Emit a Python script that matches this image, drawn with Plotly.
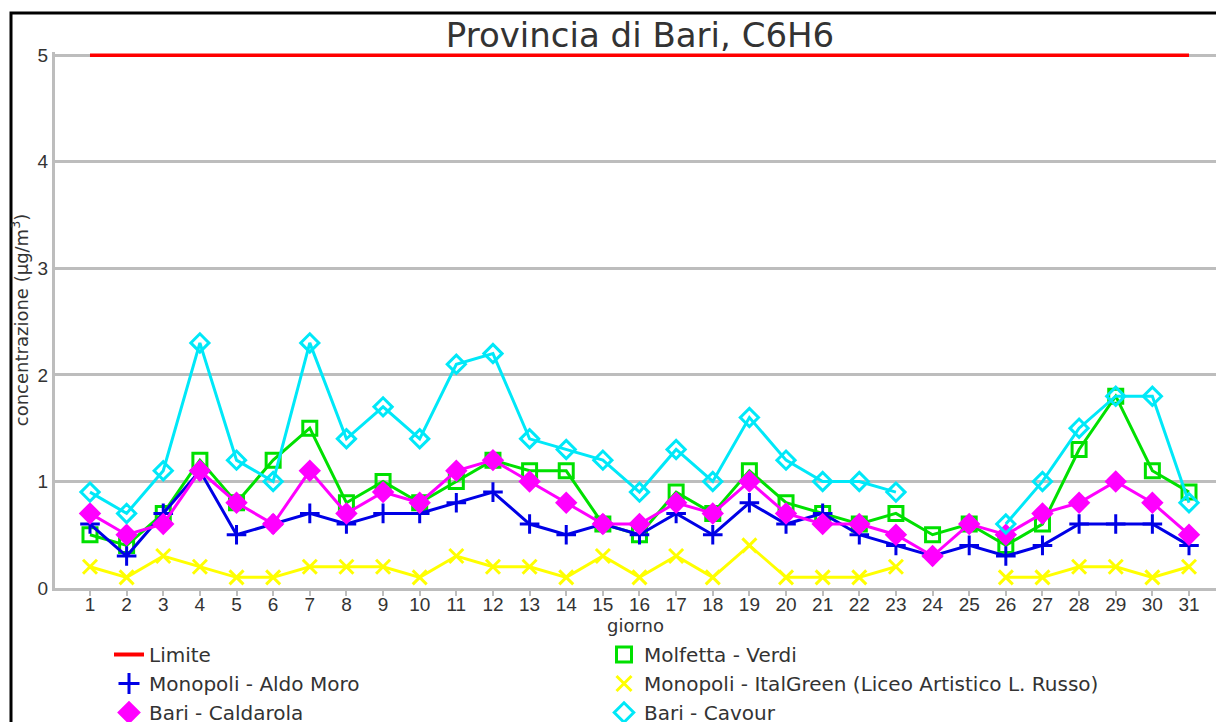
import plotly.graph_objects as go

giorni = list(range(1, 32))
limite = [5] * 31
molfetta_verdi = [0.5, 0.4, 0.7, 1.2, 0.8, 1.2, 1.5, 0.8, 1.0, 0.8, 1.0, 1.2, 1.1, 1.1, 0.6, 0.5,
                  0.9, 0.7, 1.1, 0.8, 0.7, 0.6, 0.7, 0.5, 0.6, 0.4, 0.6, 1.3, 1.8, 1.1, 0.9]
monopoli_aldo_moro = [0.6, 0.3, 0.7, 1.1, 0.5, 0.6, 0.7, 0.6, 0.7, 0.7, 0.8, 0.9, 0.6, 0.5, 0.6, 0.5,
                      0.7, 0.5, 0.8, 0.6, 0.7, 0.5, 0.4, 0.3, 0.4, 0.3, 0.4, 0.6, 0.6, 0.6, 0.4]
monopoli_italgreen = [0.2, 0.1, 0.3, 0.2, 0.1, 0.1, 0.2, 0.2, 0.2, 0.1, 0.3, 0.2, 0.2, 0.1, 0.3, 0.1,
                      0.3, 0.1, 0.4, 0.1, 0.1, 0.1, 0.2, None, None, 0.1, 0.1, 0.2, 0.2, 0.1, 0.2]
bari_caldarola = [0.7, 0.5, 0.6, 1.1, 0.8, 0.6, 1.1, 0.7, 0.9, 0.8, 1.1, 1.2, 1.0, 0.8, 0.6, 0.6,
                  0.8, 0.7, 1.0, 0.7, 0.6, 0.6, 0.5, 0.3, 0.6, 0.5, 0.7, 0.8, 1.0, 0.8, 0.5]
bari_cavour = [0.9, 0.7, 1.1, 2.3, 1.2, 1.0, 2.3, 1.4, 1.7, 1.4, 2.1, 2.2, 1.4, 1.3, 1.2, 0.9,
               1.3, 1.0, 1.6, 1.2, 1.0, 1.0, 0.9, None, None, 0.6, 1.0, 1.5, 1.8, 1.8, 0.8]

FONT = "Liberation Sans, Arial, sans-serif"
WIDE = "DejaVu Sans, Verdana, sans-serif"
TXT = "#333333"
GRID = "#bdbdbd"

series = [
    ("Limite", limite, "#ff0000", None),
    ("Molfetta - Verdi", molfetta_verdi, "#00e000", "square-open"),
    ("Monopoli - Aldo Moro", monopoli_aldo_moro, "#0000e6", "cross-thin"),
    ("Monopoli - ItalGreen (Liceo Artistico L. Russo)", monopoli_italgreen, "#ffff00", "x-thin"),
    ("Bari - Caldarola", bari_caldarola, "#ff00ff", "diamond"),
    ("Bari - Cavour", bari_cavour, "#00e8f8", "diamond-open"),
]

fig = go.Figure()
for name, vals, col, sym in series:
    if sym is None:
        fig.add_trace(go.Scatter(x=giorni, y=vals, mode="lines", name=name,
                                 line=dict(color=col, width=3.5), showlegend=False))
    else:
        fig.add_trace(go.Scatter(x=giorni, y=vals, mode="lines+markers", name=name,
                                 line=dict(color=col, width=3),
                                 marker=dict(symbol=sym, size=14, color=col,
                                             line=dict(color=col, width=3)),
                                 connectgaps=False, showlegend=False))

# legend-only entries (marker glyphs as in the reference legend)
for name, vals, col, sym in series:
    if sym is None:
        fig.add_trace(go.Scatter(x=[None], y=[None], mode="lines", name=name,
                                 line=dict(color=col, width=4)))
    else:
        fig.add_trace(go.Scatter(x=[None], y=[None], mode="markers", name=name,
                                 marker=dict(symbol=sym, size=15, color=col,
                                             line=dict(color=col, width=3))))

fig.update_layout(
    width=1216, height=722,
    margin=dict(l=55, r=0, t=52, b=134, autoexpand=False),
    paper_bgcolor="white", plot_bgcolor="white",
    font=dict(family=FONT, color=TXT, size=18),
    title=dict(text="Provincia di Bari, C6H6", x=640 / 1216, xanchor="center",
               y=1 - 35 / 722, yanchor="middle", yref="container",
               font=dict(size=34, color=TXT, family=WIDE)),
    xaxis=dict(range=[0.045, 31.737], tickmode="array", tickvals=giorni,
               ticktext=[str(g) for g in giorni], showgrid=False, zeroline=False,
               showline=True, linecolor=GRID, linewidth=3,
               ticks="outside", ticklen=5, tickwidth=2, tickcolor=GRID,
               ticklabelstandoff=-8,
               tickfont=dict(size=19, color=TXT, family=FONT),
               title=dict(text="giorno", font=dict(size=18, color=TXT, family=WIDE),
                          standoff=6)),
    yaxis=dict(range=[0, 5.03], tickvals=[0, 1, 2, 3, 4, 5], showgrid=True,
               gridcolor=GRID, gridwidth=3, zeroline=False,
               showline=True, linecolor=GRID, linewidth=3, ticks="",
               tickfont=dict(size=19, color=TXT, family=FONT),
               title=dict(text="concentrazione (µg/m<sup>3</sup>)",
                          font=dict(size=18, color=TXT, family=WIDE), standoff=5)),
    legend=dict(orientation="h", x=(109 - 55) / 1161, xanchor="left",
                y=-(635 - 588) / 536, yanchor="top",
                entrywidth=450, entrywidthmode="pixels",
                font=dict(size=20, color=TXT, family=WIDE),
                bgcolor="rgba(0,0,0,0)", tracegroupgap=0, itemwidth=30),
    shapes=[dict(type="rect", xref="paper", yref="paper",
                 x0=(11 - 55) / 1161, x1=1.1, y0=-0.5, y1=(588 - 13) / 536,
                 line=dict(color="black", width=3), fillcolor="rgba(0,0,0,0)",
                 layer="above")],
)

fig.write_html("out.html", config={"displayModeBar": False},
               post_script="document.body.style.margin='0';document.body.style.padding='0';")
